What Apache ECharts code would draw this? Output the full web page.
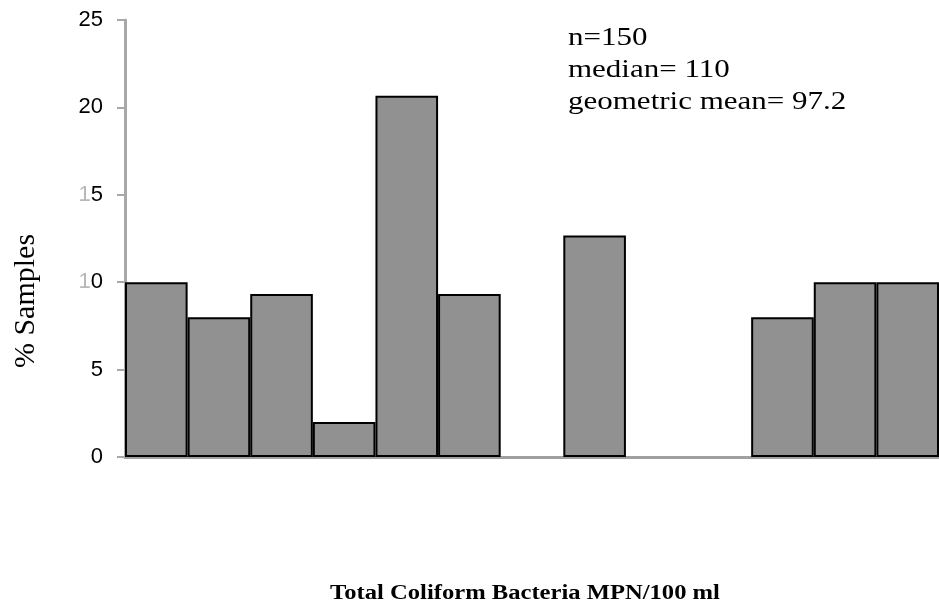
<!DOCTYPE html>
<html>
<head>
<meta charset="utf-8">
<script src="https://cdn.jsdelivr.net/npm/echarts@6/dist/echarts.min.js"></script>
<style>html,body{margin:0;padding:0;background:#fff;}#chart{width:939px;height:608px;}</style>
</head>
<body>
<div id="chart"></div>
<script>
var categories = ['1','2','3','4','5','6','7','8','9','10','11','12','13'];
var percentSamples = [10, 8, 9.33, 2, 20.67, 9.33, 0, 12.67, 0, 0, 8, 10, 10];
var yTicks = [0, 5, 10, 15, 20, 25];
var statsLines = ['n=150', 'median= 110', 'geometric mean= 97.2'];
var xTitle = 'Total Coliform Bacteria MPN/100 ml';
var yTitle = '% Samples';

var barData = percentSamples.map(function (v) {
  return v === 0 ? { value: v, itemStyle: { borderWidth: 0 } } : v;
});

var chart = echarts.init(document.getElementById('chart'));
chart.setOption({
  animation: false,
  backgroundColor: '#ffffff',
  grid: { left: 125, top: 20, width: 815, height: 437, containLabel: false },
  xAxis: {
    type: 'category',
    data: categories,
    axisLine: { show: true, lineStyle: { color: '#a0a0a0', width: 3 } },
    axisTick: { show: false },
    axisLabel: { show: false }
  },
  yAxis: {
    type: 'value',
    min: yTicks[0], max: yTicks[yTicks.length - 1], interval: 5,
    axisLine: { show: true, lineStyle: { color: '#a8a8a8', width: 3 } },
    axisTick: { show: true, inside: false, length: 8, lineStyle: { color: '#a8a8a8', width: 2 } },
    splitLine: { show: false },
    axisLabel: {
      margin: 22,
      fontFamily: 'Liberation Sans, Arial, sans-serif',
      fontSize: 22,
      color: '#000',
      formatter: function (v) {
        var s = String(v);
        if (s.length === 2 && s.charAt(0) === '1') {
          return '{one|1}{rest|' + s.slice(1) + '}';
        }
        return '{rest|' + s + '}';
      },
      rich: {
        one: { color: '#b8b8b8', fontSize: 22, fontFamily: 'Liberation Sans, Arial, sans-serif' },
        rest: { color: '#000', fontSize: 22, fontFamily: 'Liberation Sans, Arial, sans-serif' }
      }
    }
  },
  series: [{
    type: 'bar',
    data: barData,
    barCategoryGap: '0%',
    itemStyle: { color: '#919191', borderColor: '#000', borderWidth: 2 }
  }],
  graphic: [
    {
      type: 'text', x: 568, y: 22, scaleX: 1.24,
      style: { text: statsLines.join('\n'), font: '25px "Liberation Serif", serif', fill: '#000', lineHeight: 32 }
    },
    {
      type: 'text', x: 26, y: 301, rotation: Math.PI / 2,
      style: { text: yTitle, font: '30px "Liberation Serif", serif', fill: '#000', align: 'center', verticalAlign: 'middle' }
    },
    {
      type: 'text', x: 525, y: 594, scaleX: 1.23,
      style: { text: xTitle, font: 'bold 20px "Liberation Serif", serif', fill: '#000', align: 'center', verticalAlign: 'middle' }
    }
  ]
});
</script>
</body>
</html>
